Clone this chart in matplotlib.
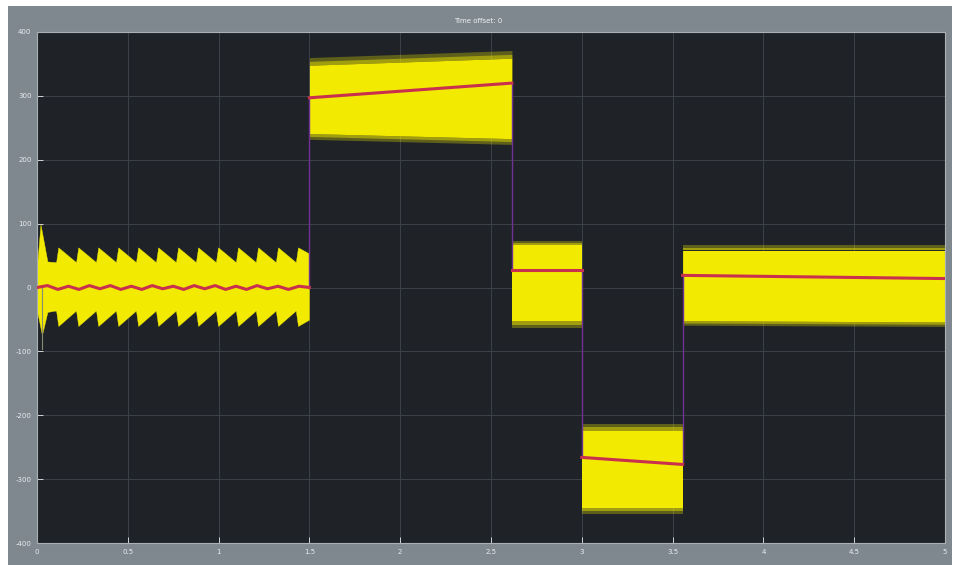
import numpy as np
import matplotlib
matplotlib.use("Agg")
import matplotlib.pyplot as plt
from matplotlib.patches import Rectangle

# Scope trace: piecewise segments of a noisy signal (yellow band) and its mean (red)
seg_t0 = [0.0, 1.5, 2.615, 3.0, 3.555]
seg_t1 = [1.5, 2.615, 3.0, 3.555, 5.0]
mean_t0 = [0, 297, 27, -266, 19]
mean_t1 = [0, 320, 27, -277, 14]
upper_t0 = [62, 348, 66, -224, 58]
upper_t1 = [62, 359, 66, -224, 58]
lower_t0 = [-61, 241, -53, -345, -52]
lower_t1 = [-61, 233, -53, -345, -54]
fringe_up = [0, 12, 7, 11, 8]
fringe_dn = [0, 9, 11, 10, 7]

# First segment: sawtooth ripple on the band edges
tooth_t = [0.12, 0.23, 0.34, 0.45, 0.56, 0.67, 0.78, 0.89, 1.00, 1.11, 1.22, 1.33, 1.44]
tooth_hi_tip, tooth_hi_valley = 62, 39
tooth_lo_tip, tooth_lo_valley = -61, -37
start_hi_t = [0.0, 0.005, 0.022, 0.06]
start_hi_v = [-20, 40, 98, 40]
start_lo_t = [0.0, 0.005, 0.03, 0.06]
start_lo_v = [20, -40, -75, -39]
red1_v = [0, 3, -3, 2, -3, 3, -2, 3, -3, 2, -3, 3, -2, 2, -3, 3, -2, 3, -3, 2, -3, 3, -2, 2, -3, 2, 0]

y_ticks = [400, 300, 200, 100, 0, -100, -200, -300, -400]
x_ticks = [0, 0.5, 1, 1.5, 2, 2.5, 3, 3.5, 4, 4.5, 5]
x_labels = ["0", "0.5", "1", "1.5", "2", "2.5", "3", "3.5", "4", "4.5", "5"]
title_text = "Time offset: 0"

BG = "#1f2327"
PANEL = "#7f878f"
YEL = "#f2ea00"
RED = "#c8304e"
PURP = "#6e3296"

fig = plt.figure(figsize=(9.56, 5.65), dpi=100)
fig.patch.set_facecolor("white")
fig.patches.append(Rectangle((8 / 956, 0), 944 / 956, 559 / 565,
                             transform=fig.transFigure, facecolor=PANEL,
                             edgecolor="none", zorder=-10))

ax = fig.add_axes([37 / 956, 22 / 565, 908 / 956, 511 / 565])
ax.set_facecolor(BG)
ax.set_xlim(0, 5)
ax.set_ylim(-400, 400)

# grid
for v in y_ticks:
    ax.axhline(v, color="#3b4147", lw=0.7, zorder=0)
for v in x_ticks:
    ax.axvline(v, color="#3b4147", lw=0.7, zorder=0)

# --- segment 1: sawtooth band ---
def saw(tip, valley, t_end):
    ts, vs = [], []
    for i, tt in enumerate(tooth_t):
        ts += [tt - 0.012, tt]
        vs += [valley, tip]
        nxt = tooth_t[i + 1] if i + 1 < len(tooth_t) else t_end + 0.1
        ts.append(min(nxt - 0.013, t_end))
        vs.append(valley if nxt - 0.013 <= t_end else
                  tip + (valley - tip) * (t_end - tt) / (nxt - 0.013 - tt))
    return ts, vs

hi_t, hi_v = saw(tooth_hi_tip, tooth_hi_valley, seg_t1[0])
lo_t, lo_v = saw(tooth_lo_tip, tooth_lo_valley, seg_t1[0])
hi_t = start_hi_t + [0.1] + hi_t
hi_v = start_hi_v + [tooth_hi_valley] + hi_v
lo_t = start_lo_t + [0.1] + lo_t
lo_v = start_lo_v + [tooth_lo_valley] + lo_v
poly_t = hi_t + lo_t[::-1]
poly_v = hi_v + lo_v[::-1]
ax.fill(poly_t, poly_v, color=YEL, lw=0.3, ec=YEL, zorder=2)
ax.plot([0.03, 0.03], [-97, 0], color="#8a8a70", lw=0.8, zorder=2)

# --- remaining segments: noisy bands with fuzzy fringe ---
for i in range(1, 5):
    t = [seg_t0[i], seg_t1[i]]
    up = [upper_t0[i], upper_t1[i]]
    lo = [lower_t0[i], lower_t1[i]]
    ax.fill_between(t, lo, up, color=YEL, lw=0, zorder=2)
    for frac, a in ((1.0, 0.3), (0.5, 0.45)):
        ax.fill_between(t, up, [u + fringe_up[i] * frac for u in up], color=YEL,
                        alpha=a, lw=0, zorder=2)
        ax.fill_between(t, [l - fringe_dn[i] * frac for l in lo], lo, color=YEL,
                        alpha=a, lw=0, zorder=2)

# --- mean trace ---
red1_t = np.linspace(0, seg_t1[0], len(red1_v))
ax.plot(red1_t, red1_v, color=RED, lw=2.2, zorder=4)
for i in range(1, 5):
    ax.plot([seg_t0[i], seg_t1[i]], [mean_t0[i], mean_t1[i]],
            color=RED, lw=2.2, zorder=4)
for i in range(4):
    ax.plot([seg_t1[i], seg_t0[i + 1]], [mean_t1[i] if i else red1_v[-1], mean_t0[i + 1]],
            color=PURP, lw=1.0, zorder=3)

ax.set_yticks(y_ticks)
ax.set_yticklabels([str(v) for v in y_ticks])
ax.set_xticks(x_ticks)
ax.set_xticklabels(x_labels)
ax.tick_params(colors="#e8ecef", labelsize=5, direction="in", length=4, width=0.6,
               pad=4)
for s in ax.spines.values():
    s.set_color("#a9b0b6")
    s.set_linewidth(0.8)

fig.text(0.5, 1 - 21 / 565, title_text, ha="center", va="center",
         color="#f0f2f4", fontsize=5)

fig.savefig("out.png", dpi=100, facecolor=fig.get_facecolor())
